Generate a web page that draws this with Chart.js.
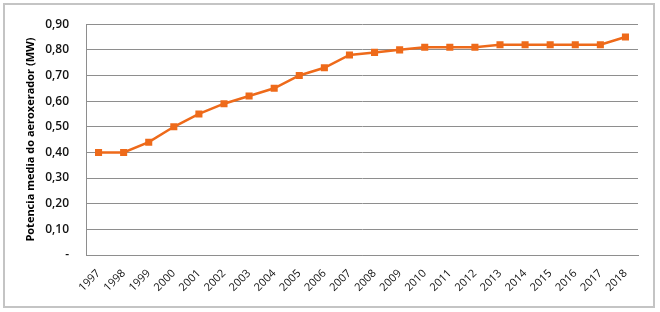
<!DOCTYPE html>
<html>
<head>
<meta charset="utf-8">
<script src="https://cdn.jsdelivr.net/npm/chart.js@4.4.1/dist/chart.umd.min.js"></script>
<style>
  html, body { margin: 0; padding: 0; background: #fff; }
  #wrap { position: relative; width: 660px; height: 312px; }
  #frame {
    position: absolute; left: 3px; top: 3px; width: 648px; height: 301px;
    border: 2px solid #c4c4c4; pointer-events: none;
  }
</style>
</head>
<body>
<div id="wrap">
  <canvas id="potChart" width="660" height="312"></canvas>
  <div id="frame"></div>
</div>
<script>
// years on the x axis
const years = ['1997', '1998', '1999', '2000', '2001', '2002', '2003', '2004', '2005', '2006', '2007',
               '2008', '2009', '2010', '2011', '2012', '2013', '2014', '2015', '2016', '2017', '2018'];

// mean power per wind turbine (MW)
const potencia = [0.40, 0.40, 0.44, 0.50, 0.55, 0.59, 0.62, 0.65, 0.70, 0.73, 0.78,
                  0.79, 0.80, 0.81, 0.81, 0.81, 0.82, 0.82, 0.82, 0.82, 0.82, 0.85];

const yTitle = 'Potencia media do aeroxerador (MW)';
const ORANGE = '#ee6a1a';
const FONT = "'Open Sans', 'Liberation Sans', sans-serif";

const ctx = document.getElementById('potChart').getContext('2d');
new Chart(ctx, {
  type: 'line',
  data: {
    labels: years,
    datasets: [{
      data: potencia,
      borderColor: ORANGE,
      backgroundColor: ORANGE,
      borderWidth: 2.5,
      pointStyle: 'rect',
      pointRadius: 5,
      pointBorderWidth: 0,
      tension: 0
    }]
  },
  options: {
    responsive: false,
    animation: false,
    layout: { padding: { left: 0, right: 22, top: 20, bottom: 0 } },
    plugins: { legend: { display: false }, tooltip: { enabled: false } },
    scales: {
      x: {
        offset: true,
        grid: { display: false },
        border: { display: true, color: '#8e8e8e', width: 1 },
        ticks: {
          color: '#111',
          font: { family: FONT, size: 11 },
          minRotation: 45, maxRotation: 45,
          padding: 4,
          autoSkip: false
        },
        afterFit: (scale) => { scale.height = 57; }
      },
      y: {
        min: 0, max: 0.9,
        grid: { color: '#8e8e8e', lineWidth: 1, drawTicks: false },
        border: { display: true, color: '#8e8e8e', width: 1 },
        ticks: {
          stepSize: 0.1,
          padding: 17,
          color: '#111',
          font: { family: FONT, size: 12, weight: '600' },
          callback: (v) => v === 0 ? '-' : v.toFixed(2).replace('.', ',')
        },
        title: {
          display: true,
          text: yTitle,
          color: '#000',
          font: { family: FONT, size: 11, weight: 'bold' },
          padding: { top: 24, bottom: 0 }
        },
        afterFit: (scale) => { scale.width = 86; }
      }
    }
  }
});
</script>
</body>
</html>
